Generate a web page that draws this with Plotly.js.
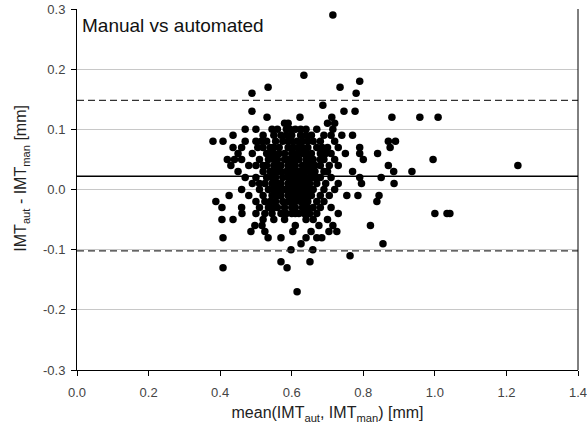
<!DOCTYPE html>
<html>
<head>
<meta charset="utf-8">
<script src="https://cdn.plot.ly/plotly-3.0.1.min.js"></script>
<style>html,body{margin:0;padding:0;background:#fff;}#chart{width:587px;height:432px;}</style>
</head>
<body>
<div id="chart"></div>
<script>
// Bland-Altman rows: difference value and the means of the points on that row
const rowDiff = [0.29, 0.19, 0.18, 0.17, 0.16, 0.14, 0.13, 0.12, 0.11, 0.10, 0.09, 0.08, 0.07, 0.06, 0.05, 0.04, 0.03, 0.02, 0.01, 0.00,
  -0.01, -0.02, -0.03, -0.04, -0.05, -0.06, -0.07, -0.08, -0.09, -0.10, -0.11, -0.12, -0.13, -0.17];
const rowMeans = [
  [0.715],
  [0.634],
  [0.79],
  [0.534, 0.735],
  [0.489, 0.78],
  [0.687],
  [0.489, 0.746, 0.777],
  [0.531, 0.623, 0.712, 0.88, 0.958, 1.009],
  [0.58, 0.59, 0.70, 0.72],
  [0.47, 0.50, 0.545, 0.56, 0.585, 0.595, 0.61, 0.625, 0.64, 0.67, 0.715],
  [0.436, 0.52, 0.55, 0.57, 0.585, 0.60, 0.625, 0.64, 0.655, 0.69, 0.71, 0.74, 0.77],
  [0.38, 0.408, 0.47, 0.50, 0.515, 0.53, 0.555, 0.575, 0.59, 0.60, 0.615, 0.63, 0.645, 0.66, 0.68, 0.72, 0.87, 0.89],
  [0.436, 0.46, 0.505, 0.52, 0.54, 0.55, 0.565, 0.59, 0.605, 0.62, 0.63, 0.645, 0.67, 0.685, 0.70, 0.73, 0.79, 0.875],
  [0.45, 0.49, 0.53, 0.54, 0.55, 0.565, 0.58, 0.60, 0.615, 0.63, 0.64, 0.655, 0.68, 0.695, 0.71, 0.75, 0.79, 0.84],
  [0.42, 0.44, 0.46, 0.51, 0.535, 0.55, 0.56, 0.58, 0.59, 0.60, 0.61, 0.62, 0.64, 0.65, 0.66, 0.68, 0.69, 0.72, 0.80, 0.995],
  [0.43, 0.48, 0.50, 0.52, 0.53, 0.55, 0.56, 0.57, 0.59, 0.60, 0.61, 0.63, 0.64, 0.65, 0.665, 0.68, 0.705, 0.73, 0.87, 1.232],
  [0.45, 0.52, 0.54, 0.55, 0.56, 0.57, 0.585, 0.60, 0.61, 0.62, 0.63, 0.64, 0.655, 0.665, 0.69, 0.70, 0.77, 0.885, 0.936],
  [0.47, 0.50, 0.53, 0.545, 0.555, 0.575, 0.59, 0.60, 0.615, 0.625, 0.635, 0.65, 0.66, 0.67, 0.68, 0.71, 0.79, 0.85],
  [0.49, 0.51, 0.525, 0.545, 0.56, 0.57, 0.59, 0.60, 0.61, 0.62, 0.63, 0.64, 0.65, 0.67, 0.695, 0.73, 0.795, 0.886],
  [0.46, 0.51, 0.535, 0.55, 0.56, 0.57, 0.58, 0.59, 0.60, 0.61, 0.62, 0.63, 0.64, 0.65, 0.66, 0.69, 0.72],
  [0.425, 0.48, 0.52, 0.545, 0.56, 0.57, 0.59, 0.60, 0.61, 0.62, 0.635, 0.645, 0.655, 0.68, 0.705, 0.754, 0.785, 0.844],
  [0.388, 0.50, 0.525, 0.54, 0.555, 0.575, 0.59, 0.60, 0.61, 0.625, 0.635, 0.645, 0.67, 0.69, 0.838],
  [0.405, 0.46, 0.51, 0.535, 0.55, 0.56, 0.58, 0.60, 0.61, 0.63, 0.645, 0.66, 0.68, 0.71],
  [0.461, 0.50, 0.525, 0.545, 0.57, 0.585, 0.60, 0.61, 0.62, 0.635, 0.65, 0.67, 0.73, 1.0, 1.034, 1.042],
  [0.405, 0.436, 0.52, 0.55, 0.58, 0.64, 0.66, 0.70],
  [0.497, 0.517, 0.61, 0.676, 0.715, 0.82],
  [0.486, 0.525, 0.603, 0.654, 0.704, 0.726],
  [0.408, 0.534, 0.57, 0.64, 0.67, 0.684],
  [0.626, 0.855],
  [0.598, 0.659],
  [0.763],
  [0.57, 0.651],
  [0.408, 0.587],
  [0.615]
];
const meanDiff = 0.022;
const upperLoA = 0.148;
const lowerLoA = -0.102;
const xTicks = [0.0, 0.2, 0.4, 0.6, 0.8, 1.0, 1.2, 1.4];
const xTickLabels = ['0.0', '0.2', '0.4', '0.6', '0.8', '1.0', '1.2', '1.4'];
const yTicks = [-0.3, -0.2, -0.1, 0.0, 0.1, 0.2, 0.3];
const yTickLabels = ['-0.3', '-0.2', '-0.1', '0.0', '0.1', '0.2', '0.3'];

const meanIMT = [], diffIMT = [];
rowDiff.forEach((d, i) => rowMeans[i].forEach(m => { meanIMT.push(m); diffIMT.push(d); }));

const font = 'Liberation Sans, Arial, sans-serif';
const trace = {
  x: meanIMT, y: diffIMT, type: 'scatter', mode: 'markers',
  marker: {color: '#000', size: 7.5}, hoverinfo: 'skip'
};
const hline = (y, dash, w, c) => ({type: 'line', xref: 'paper', x0: 0, x1: 1, yref: 'y', y0: y, y1: y,
  line: {color: c, width: w, dash: dash}});
const layout = {
  width: 587, height: 432,
  margin: {l: 77, r: 9, t: 9, b: 62},
  paper_bgcolor: '#fff', plot_bgcolor: '#fff',
  showlegend: false,
  font: {family: font, color: '#222', size: 13},
  xaxis: {
    range: [0, 1.4], tickmode: 'array', tickvals: xTicks, ticktext: xTickLabels,
    showgrid: false, zeroline: false,
    showline: true, linecolor: '#000', linewidth: 1,
    ticks: 'outside', ticklen: 5, tickcolor: '#000', ticklabelstandoff: 5,
    ticklabeloverflow: 'allow',
    tickfont: {size: 13, color: '#444'},
    title: {text: 'mean(IMT<sub>aut</sub>, IMT<sub>man</sub>) [mm]', font: {size: 16, color: '#222'}, standoff: 8}
  },
  yaxis: {
    range: [-0.3, 0.3], tickmode: 'array', tickvals: yTicks, ticktext: yTickLabels,
    showgrid: true, gridcolor: '#c8c8c8', gridwidth: 1, zeroline: false,
    showline: true, linecolor: '#000', linewidth: 1,
    ticks: 'outside', ticklen: 5, tickcolor: '#000', ticklabelstandoff: 3,
    ticklabeloverflow: 'allow',
    tickfont: {size: 13, color: '#444'}
  },
  shapes: [
    hline(meanDiff, 'solid', 1.6, '#000'),
    hline(upperLoA, '7px,4px', 1.2, '#333'),
    hline(lowerLoA, '7px,4px', 1.2, '#333'),
    {type: 'line', xref: 'paper', yref: 'paper', x0: 1, x1: 1, y0: 0, y1: 1, line: {color: '#000', width: 1}}
  ],
  annotations: [{
    xref: 'paper', yref: 'paper', x: 0, y: 1, xanchor: 'left', yanchor: 'middle',
    xshift: 3, yshift: -16, showarrow: false,
    text: 'Manual vs automated', font: {size: 19, color: '#111', family: font}
  }, {
    xref: 'paper', yref: 'paper', x: 0, y: 0.53, xanchor: 'center', yanchor: 'middle',
    xshift: -55, showarrow: false, textangle: -90,
    text: 'IMT<sub>aut</sub> - IMT<sub>man</sub> [mm]', font: {size: 16, color: '#222', family: font}
  }]
};
Plotly.newPlot('chart', [trace], layout, {staticPlot: true, displayModeBar: false});
</script>
</body>
</html>
